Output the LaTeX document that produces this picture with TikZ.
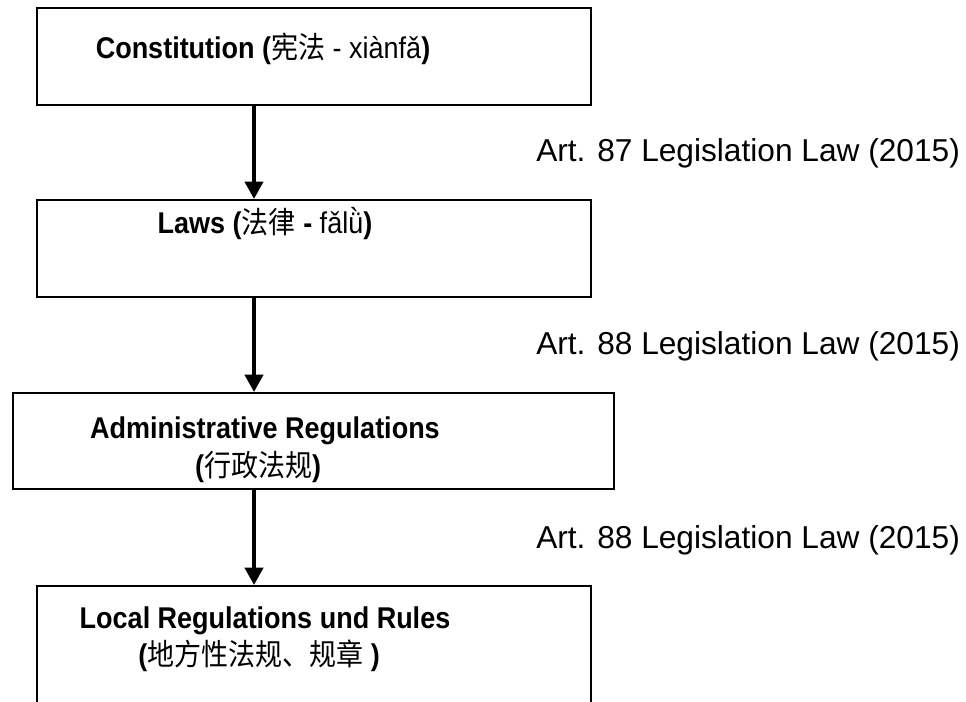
\documentclass[tikz,border=0pt]{standalone}
\usepackage{fontspec}
\setmainfont{Liberation Sans}
\newfontfamily\boxfont[FakeStretch=0.9]{Liberation Sans}
\newfontfamily\cjk[FakeStretch=0.9]{Noto Sans CJK SC}
\usetikzlibrary{arrows.meta}
\newcommand{\zhtext}[1]{{\cjk\mdseries #1}}
\begin{document}
\begin{tikzpicture}[x=0.75pt,y=-0.75pt,
  box/.style={draw=black,line width=1.5pt,minimum width={554*0.75pt},minimum height={97*0.75pt},inner sep=0pt},
  ttl/.style={font=\boxfont\fontsize{22.5pt}{27pt}\selectfont,anchor=base,inner sep=0pt},
  ann/.style={font=\fontsize{23.75pt}{28pt}\selectfont,anchor=base west,inner sep=0pt},
  arr/.style={line width=3pt,-{Triangle[width=13.5pt,length=13pt]}}]
\useasboundingbox (0,0) rectangle (966,701);
\clip (0,0) rectangle (966,701);
% boxes
\node[box] (b1) at (314,56.5) {};
\node[box] (b2) at (314,248.5) {};
\node[box,minimum width={601*0.75pt},minimum height={96*0.75pt}] (b3) at (313.5,441) {};
\node[box,minimum height={150*0.75pt}] (b4) at (314,661) {};
% texts
\node[ttl] (t1) at (263,58) {\textbf{Constitution (}\zhtext{宪法} - xiànfǎ\textbf{)}};
\node[ttl] (t2) at (265,233) {\textbf{Laws (}\zhtext{法律}\textbf{ - }fǎlǜ\textbf{)}};
\node[ttl] (t3a) at (265,438) {\textbf{Administrative Regulations}};
\node[ttl] (t3b) at (258,476) {\textbf{(}\zhtext{行政法规}\textbf{)}};
\node[ttl] (t4a) at (265,628) {\textbf{Local Regulations und Rules}};
\node[ttl] (t4b) at (259,665) {\textbf{(}\zhtext{地方性法规、规章}\textbf{ )}};
% annotations
\node[ann] (a1) at (536,161) {Art. 87 Legislation Law (2015)};
\node[ann] (a2) at (536,354) {Art. 88 Legislation Law (2015)};
\node[ann] (a3) at (536,548) {Art. 88 Legislation Law (2015)};
% arrows
\coordinate (ax) at (254,0);
\draw[arr] (b1.south -| ax) -- (b2.north -| ax);
\draw[arr] (b2.south -| ax) -- (b3.north -| ax);
\draw[arr] (b3.south -| ax) -- (b4.north -| ax);
\end{tikzpicture}
\end{document}
